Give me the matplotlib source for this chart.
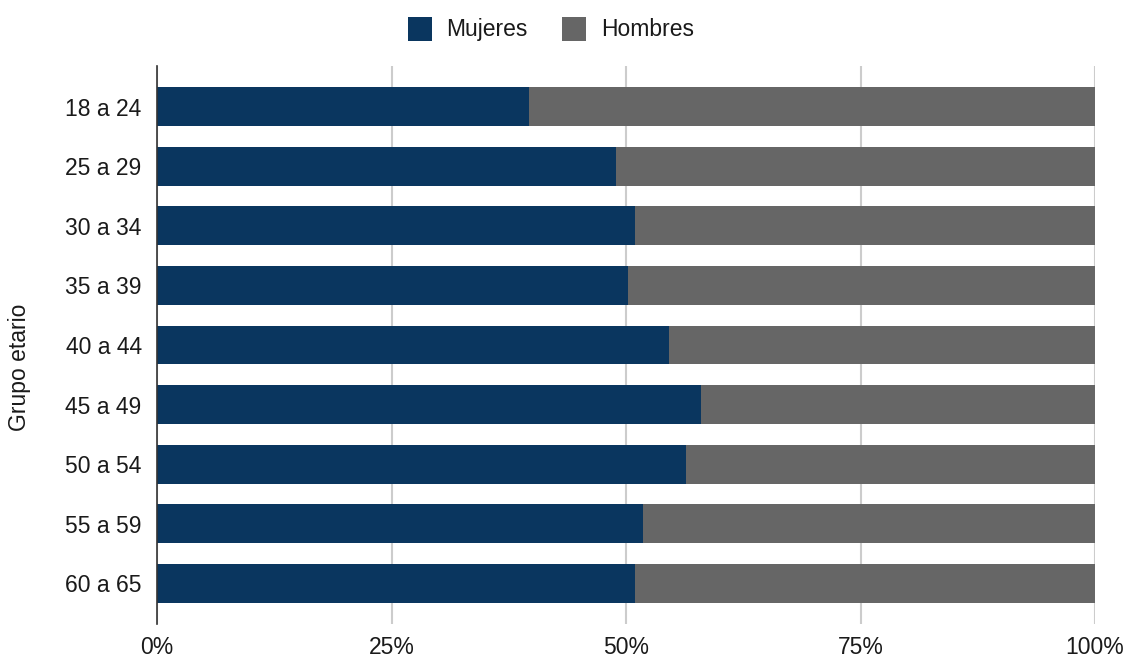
import matplotlib
matplotlib.use("Agg")
import matplotlib.pyplot as plt
from matplotlib.ticker import FuncFormatter

grupos = ["18 a 24", "25 a 29", "30 a 34", "35 a 39", "40 a 44",
          "45 a 49", "50 a 54", "55 a 59", "60 a 65"]
mujeres = [39.7, 48.9, 51.0, 50.2, 54.6, 58.0, 56.4, 51.8, 51.0]
hombres = [60.3, 51.1, 49.0, 49.8, 45.4, 42.0, 43.6, 48.2, 49.0]
x_ticks = [0, 25, 50, 75, 100]

COLOR_MUJERES = "#0a365f"
COLOR_HOMBRES = "#666666"

plt.rcParams["font.family"] = ["Liberation Sans", "DejaVu Sans"]

fig = plt.figure(figsize=(11.27, 6.6), dpi=100)
ax = fig.add_axes([157 / 1127, 1 - 624 / 660, (1095 - 157) / 1127, (624 - 66) / 660])

pos = list(range(len(grupos)))
ax.barh(pos, mujeres, height=0.65, color=COLOR_MUJERES, label="Mujeres", zorder=3)
ax.barh(pos, hombres, left=mujeres, height=0.65, color=COLOR_HOMBRES,
        label="Hombres", zorder=3)

ax.set_xlim(0, 100)
ax.set_ylim(len(grupos) - 1 + 0.68, -0.68)
ax.set_yticks(pos)
ax.set_yticklabels(grupos)
ax.set_xticks(x_ticks)
ax.xaxis.set_major_formatter(FuncFormatter(lambda v, _: f"{v:.0f}%"))
ax.tick_params(axis="both", length=0, labelsize=16.5, colors="#1a1a1a")
ax.tick_params(axis="y", pad=11)
ax.tick_params(axis="x", pad=9)

ax.grid(axis="x", color="#cccccc", linewidth=1.5, zorder=0)
for side in ["top", "right", "bottom"]:
    ax.spines[side].set_visible(False)
ax.spines["left"].set_color("#333333")
ax.spines["left"].set_linewidth(1.2)
ax.spines["left"].set_zorder(4)

fig.text(20 / 1127, 1 - 367 / 660, "Grupo etario", rotation=90, fontsize=16.5,
         color="#1a1a1a", ha="center", va="center")

fig.legend(loc="center", bbox_to_anchor=(551 / 1127, 1 - 29 / 660), ncol=2,
           frameon=False, fontsize=16.5, handlelength=1.05, handleheight=1.25,
           handletextpad=0.65, columnspacing=1.5, labelcolor="#1a1a1a")

fig.savefig("out.png", dpi=100, facecolor="white")
